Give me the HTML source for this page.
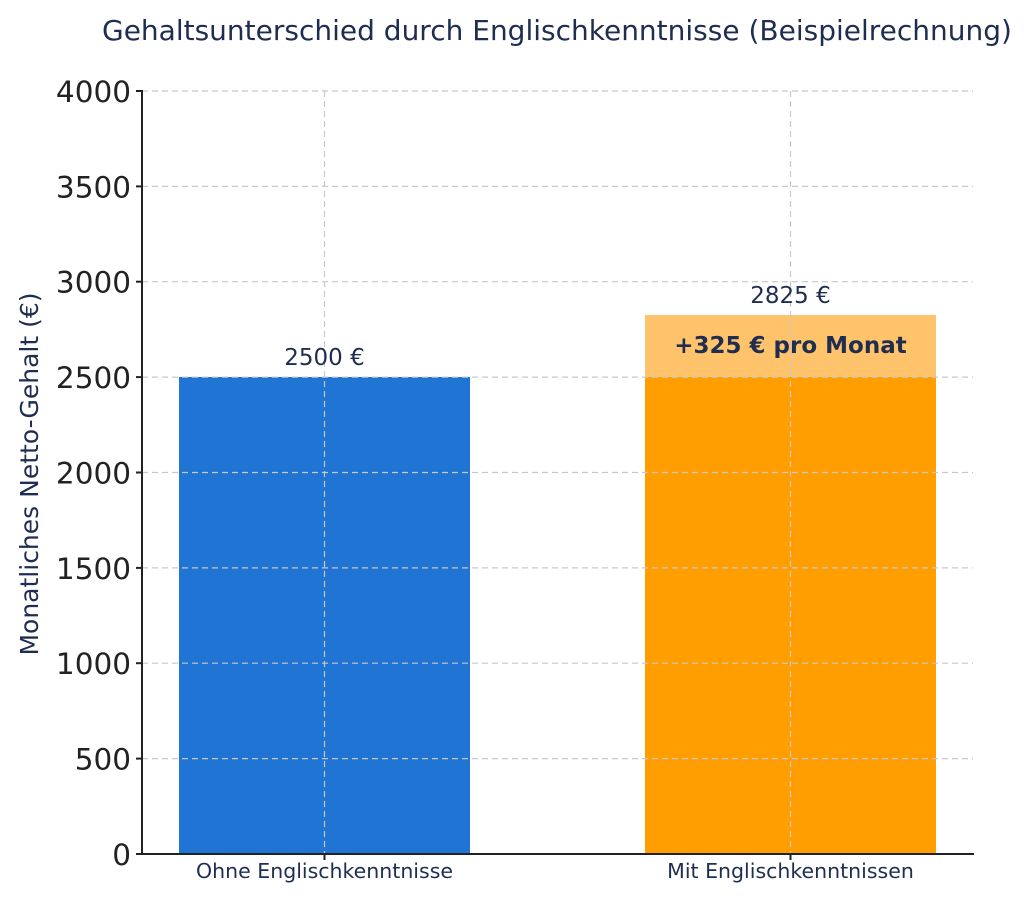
<!DOCTYPE html>
<html><head><meta charset="utf-8"><style>
html,body{margin:0;padding:0;background:#fff;}
svg{display:block;font-family:"DejaVu Sans","Liberation Sans",sans-serif;}
</style></head><body>
<svg width="1030" height="900" viewBox="0 0 1030 900" xmlns="http://www.w3.org/2000/svg">
<rect width="1030" height="900" fill="#fff"/>
<text x="557" y="40" text-anchor="middle" font-size="28" fill="#1f2d50">Gehaltsunterschied durch Englischkenntnisse (Beispielrechnung)</text>
<rect x="179" y="377" width="291" height="477" fill="#1f74d4"/>
<rect x="645" y="377" width="291" height="477" fill="#ff9e00"/>
<rect x="645" y="315" width="291" height="62" fill="#ffc46b"/>
<g stroke="#c8c8c8" stroke-width="1.2" stroke-dasharray="6,4" fill="none">
<line x1="142" y1="91" x2="973" y2="91"/>
<line x1="142" y1="186.4" x2="973" y2="186.4"/>
<line x1="142" y1="281.7" x2="973" y2="281.7"/>
<line x1="142" y1="377.1" x2="973" y2="377.1"/>
<line x1="142" y1="472.5" x2="973" y2="472.5"/>
<line x1="142" y1="567.9" x2="973" y2="567.9"/>
<line x1="142" y1="663.2" x2="973" y2="663.2"/>
<line x1="142" y1="758.6" x2="973" y2="758.6"/>
<line x1="324.5" y1="91" x2="324.5" y2="854"/>
<line x1="790.5" y1="91" x2="790.5" y2="854"/>
</g>
<g stroke="#222" stroke-width="2">
<line x1="142" y1="90" x2="142" y2="855"/>
<line x1="141" y1="854" x2="974" y2="854"/>
<line x1="136" y1="91" x2="142" y2="91"/>
<line x1="136" y1="186.4" x2="142" y2="186.4"/>
<line x1="136" y1="281.7" x2="142" y2="281.7"/>
<line x1="136" y1="377.1" x2="142" y2="377.1"/>
<line x1="136" y1="472.5" x2="142" y2="472.5"/>
<line x1="136" y1="567.9" x2="142" y2="567.9"/>
<line x1="136" y1="663.2" x2="142" y2="663.2"/>
<line x1="136" y1="758.6" x2="142" y2="758.6"/>
<line x1="136" y1="854" x2="142" y2="854"/>
<line x1="324.5" y1="854" x2="324.5" y2="860"/>
<line x1="790.5" y1="854" x2="790.5" y2="860"/>
</g>
<g font-size="29.5" fill="#222" text-anchor="end">
<text x="131" y="102">4000</text>
<text x="131" y="197.4">3500</text>
<text x="131" y="292.7">3000</text>
<text x="131" y="388.1">2500</text>
<text x="131" y="483.5">2000</text>
<text x="131" y="578.9">1500</text>
<text x="131" y="674.2">1000</text>
<text x="131" y="769.6">500</text>
<text x="131" y="865">0</text>
</g>
<g font-size="20.5" fill="#1f2d50" text-anchor="middle">
<text x="324.5" y="878">Ohne Englischkenntnisse</text>
<text x="790.5" y="878">Mit Englischkenntnissen</text>
</g>
<text transform="translate(38,474) rotate(-90)" text-anchor="middle" font-size="25" fill="#1f2d50">Monatliches Netto-Gehalt (€)</text>
<g font-size="23" fill="#1f2d50" text-anchor="middle">
<text x="324.5" y="365">2500 €</text>
<text x="790.5" y="303">2825 €</text>
</g>
<text x="790.5" y="353" text-anchor="middle" font-size="23" font-weight="bold" fill="#1f2d50">+325 € pro Monat</text>
</svg>
</body></html>
